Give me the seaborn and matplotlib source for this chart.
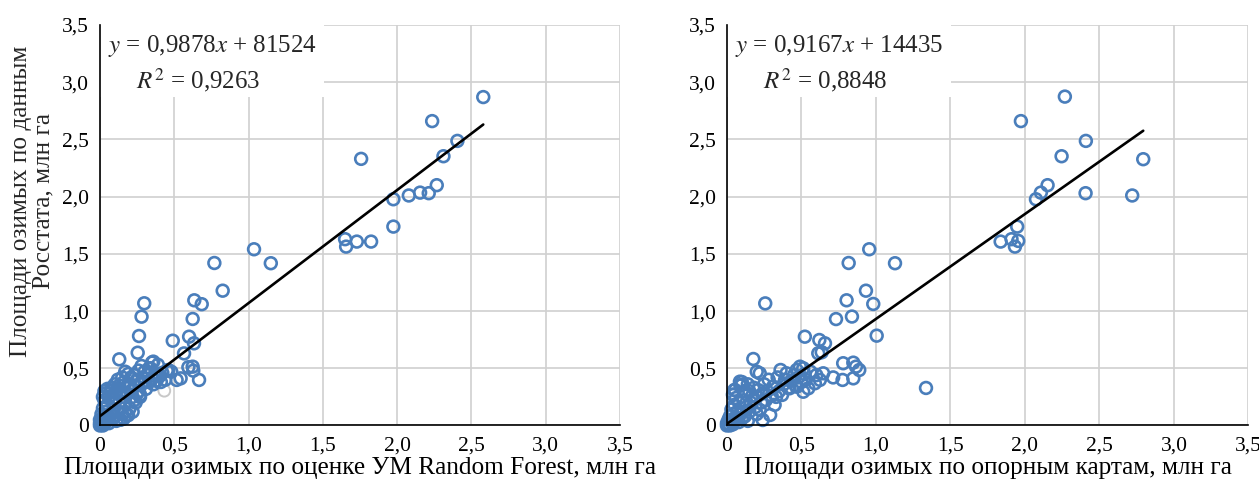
#! /usr/bin/env python3
'''
Winter crop areas: model / reference maps vs Rosstat, two scatter panels
'''

# imports
import matplotlib
matplotlib.use('Agg')
import matplotlib.pyplot as plt
from matplotlib.patches import Rectangle
from matplotlib.ticker import FuncFormatter, MultipleLocator
import pandas as pd
import seaborn as sns

# data (mln ha)
rf_x = [2.58, 2.236, 1.758, 2.406, 2.312, 2.267, 2.213, 2.155, 2.079, 1.975, 1.975, 1.65, 1.657, 1.729, 1.825,
        1.037, 0.77, 1.15, 0.826, 0.635, 0.685, 0.624,
        0.298, 0.28, 0.263, 0.254, 0.13, 0.49, 0.60, 0.633, 0.566, 0.516, 0.543, 0.595, 0.624, 0.628, 0.667,
        0.46, 0.40, 0.359,
        0.0, 0.01, 0.02, 0.0, 0.01, 0.03, 0.02, 0.04, 0.0, 0.03, 0.05, 0.01, 0.04, 0.02, 0.05, 0.03, 0.06, 0.04,
        0.07, 0.05, 0.08, 0.03, 0.02,
        0.06, 0.08, 0.07, 0.09, 0.1, 0.11, 0.12, 0.1, 0.09, 0.11, 0.12, 0.13, 0.1, 0.14, 0.15, 0.13, 0.14, 0.15,
        0.13, 0.16, 0.18, 0.16, 0.15, 0.12,
        0.17, 0.18, 0.19, 0.2, 0.21, 0.22, 0.2, 0.23, 0.24, 0.25, 0.26, 0.27, 0.28, 0.29, 0.3, 0.3, 0.31, 0.32,
        0.33, 0.34, 0.35, 0.36, 0.37, 0.38, 0.39, 0.4, 0.41, 0.42, 0.44, 0.45, 0.48, 0.23, 0.19, 0.17, 0.21,
        0.26, 0.28, 0.33, 0.35, 0.27, 0.24, 0.22, 0.25, 0.19, 0.14, 0.17, 0.37]
rf_y = [2.87, 2.66, 2.33, 2.487, 2.353, 2.10, 2.03, 2.035, 2.01, 1.977, 1.738, 1.628, 1.563, 1.607, 1.607,
        1.54, 1.42, 1.418, 1.178, 1.094, 1.06, 0.931,
        1.068, 0.951, 0.782, 0.636, 0.578, 0.741, 0.776, 0.718, 0.63, 0.398, 0.412, 0.509, 0.514, 0.479, 0.398,
        0.485, 0.44, 0.558,
        0.0, 0.01, 0.0, 0.02, 0.04, 0.02, 0.06, 0.03, 0.05, 0.08, 0.05, 0.1, 0.12, 0.15, 0.18, 0.22, 0.25, 0.28,
        0.3, 0.32, 0.33, 0.3, 0.25,
        0.02, 0.06, 0.1, 0.14, 0.08, 0.04, 0.12, 0.2, 0.24, 0.28, 0.32, 0.35, 0.36, 0.3, 0.25, 0.2, 0.15, 0.1,
        0.05, 0.06, 0.09, 0.38, 0.42, 0.4,
        0.2, 0.28, 0.33, 0.36, 0.3, 0.25, 0.15, 0.22, 0.35, 0.4, 0.3, 0.27, 0.36, 0.42, 0.38, 0.47, 0.32, 0.44,
        0.38, 0.5, 0.41, 0.36, 0.45, 0.39, 0.53, 0.43, 0.38, 0.46, 0.4, 0.48, 0.47, 0.44, 0.45, 0.47, 0.42,
        0.48, 0.52, 0.5, 0.55, 0.25, 0.2, 0.12, 0.28, 0.09, 0.05, 0.12, 0.43]
rf_gray_x = [0.433]
rf_gray_y = [0.304]

map_x = [2.268, 1.973, 2.409, 2.246, 2.794, 2.152, 2.107, 2.074, 2.407, 2.72, 1.948, 1.837, 1.91, 1.955, 1.933,
         0.955, 0.817, 1.128, 0.933, 0.803, 0.982, 0.732, 0.839,
         0.257, 0.523, 0.62, 0.658, 0.613, 0.636, 1.005, 1.336, 0.78, 0.848, 0.866, 0.888, 0.713, 0.776, 0.848,
         0.0, 0.01, 0.02, 0.0, 0.03, 0.01, 0.04, 0.05, 0.02, 0.06, 0.04, 0.08, 0.07, 0.03, 0.1, 0.09, 0.05, 0.08,
         0.06, 0.04, 0.05, 0.09, 0.1, 0.12, 0.11, 0.13, 0.12, 0.14, 0.15, 0.16, 0.17, 0.15, 0.14, 0.18, 0.19,
         0.2, 0.2, 0.21, 0.22, 0.23, 0.24, 0.24, 0.25, 0.26, 0.27, 0.29, 0.28, 0.3, 0.31, 0.32, 0.33, 0.34,
         0.35, 0.36, 0.37, 0.38, 0.39, 0.4, 0.41, 0.42, 0.43, 0.45, 0.46, 0.468, 0.468, 0.48, 0.49, 0.5, 0.512,
         0.512, 0.52, 0.53, 0.546, 0.56, 0.59, 0.6, 0.624, 0.646, 0.2, 0.22, 0.177, 0.087, 0.099, 0.054, 0.042]
map_y = [2.874, 2.66, 2.487, 2.353, 2.327, 2.10, 2.035, 1.977, 2.03, 2.01, 1.738, 1.607, 1.628, 1.613, 1.563,
         1.54, 1.42, 1.418, 1.178, 1.094, 1.062, 0.93, 0.952,
         1.067, 0.776, 0.747, 0.718, 0.631, 0.64, 0.785, 0.328, 0.544, 0.549, 0.514, 0.485, 0.42, 0.398, 0.412,
         0.0, 0.01, 0.0, 0.02, 0.03, 0.05, 0.01, 0.04, 0.08, 0.07, 0.1, 0.03, 0.12, 0.14, 0.06, 0.1, 0.18, 0.2,
         0.24, 0.27, 0.31, 0.35, 0.38, 0.3, 0.22, 0.16, 0.08, 0.04, 0.12, 0.2, 0.26, 0.3, 0.36, 0.33, 0.16,
         0.1, 0.25, 0.31, 0.135, 0.2, 0.28, 0.048, 0.36, 0.22, 0.3, 0.092, 0.4, 0.26, 0.34, 0.18, 0.25, 0.42,
         0.3, 0.485, 0.267, 0.36, 0.4, 0.456, 0.33, 0.325, 0.39, 0.44, 0.35, 0.339, 0.485, 0.42, 0.514, 0.38,
         0.295, 0.5, 0.45, 0.4, 0.325, 0.47, 0.369, 0.44, 0.398, 0.456, 0.47, 0.456, 0.581, 0.383, 0.354, 0.31,
         0.267]

# trendlines as given on the chart
slopes = [0.9878, 0.9167]
intercepts = [0.081524, 0.014435]
eq_texts = [r'$y$ = 0,9878$x$ + 81524', r'$y$ = 0,9167$x$ + 14435']
r2_texts = [r'$R^2$ = 0,9263', r'$R^2$ = 0,8848']
x_labels = ['Площади озимых по оценке УМ Random Forest, млн га',
            'Площади озимых по опорным картам, млн га']
y_label = 'Площади озимых по данным\nРосстата, млн га'

# style
sns.set_style('white')
plt.rcParams['font.family'] = ['Liberation Serif', 'DejaVu Serif']
plt.rcParams['mathtext.fontset'] = 'stix'

BLUE = '#4a7ebb'
GRID = '#d0d0d0'

fig = plt.figure(figsize=(12.59, 4.84), dpi=100)
axes = [fig.add_axes([0.0794, 0.1209, 0.4130, 0.8275]),
        fig.add_axes([0.5774, 0.1209, 0.4142, 0.8275])]

panels = [(rf_x, rf_y), (map_x, map_y)]
for i, ax in enumerate(axes):
    xs, ys = panels[i]
    df = pd.DataFrame({'x': xs, 'y': ys})
    sns.scatterplot(data=df, x='x', y='y', ax=ax, marker='o', s=72, facecolors='none',
                    edgecolor=BLUE, linewidth=1.9, zorder=4, clip_on=False)
    if i == 0:
        sns.scatterplot(x=rf_gray_x, y=rf_gray_y, ax=ax, marker='o', s=72, facecolors='none',
                        edgecolor='#c8c8c8', linewidth=1.4, zorder=3, clip_on=False)
    # trendline across the data range
    lo, hi = min(xs), max(xs)
    line = pd.DataFrame({'x': [lo, hi], 'y': [slopes[i] * lo + intercepts[i], slopes[i] * hi + intercepts[i]]})
    sns.lineplot(data=line, x='x', y='y', ax=ax, color='black', linewidth=1.9, zorder=5)

    ax.set_xlim(0, 3.5)
    ax.set_ylim(0, 3.5)
    ax.xaxis.set_major_locator(MultipleLocator(0.5))
    ax.yaxis.set_major_locator(MultipleLocator(0.5))
    fmt = FuncFormatter(lambda v, p: '0' if abs(v) < 1e-9 else ('%.1f' % v).replace('.', ','))
    ax.xaxis.set_major_formatter(fmt)
    ax.yaxis.set_major_formatter(fmt)
    ax.grid(True, color=GRID, linewidth=1.2)
    ax.set_axisbelow(True)
    for s in ['top', 'right']:
        ax.spines[s].set_visible(False)
    for s in ['left', 'bottom']:
        ax.spines[s].set_color('black')
        ax.spines[s].set_linewidth(1.2)
        ax.spines[s].set_zorder(6)
    ax.tick_params(axis='both', direction='out', length=4, width=1, color='black',
                   labelsize=15.5, labelcolor='black', pad=4)
    ax.set_xlabel(x_labels[i], fontsize=18.2, labelpad=1, color='black')
    ax.set_ylabel('')

    # white box behind equation
    ax.add_patch(Rectangle((0.0, 0.82), 0.43, 0.18, transform=ax.transAxes,
                           facecolor='white', edgecolor='none', zorder=2))
    ax.text(0.015, 0.947, eq_texts[i], transform=ax.transAxes, fontsize=18,
            ha='left', va='center', zorder=7)
    ax.text(0.07, 0.862, r2_texts[i], transform=ax.transAxes, fontsize=18,
            ha='left', va='center', zorder=7)

fig.text(32 / 1259, 1 - 201 / 484, y_label, rotation=90, fontsize=18.2,
         ha='center', va='center', multialignment='center', linespacing=1.05)

fig.savefig('out.png', dpi=100)
